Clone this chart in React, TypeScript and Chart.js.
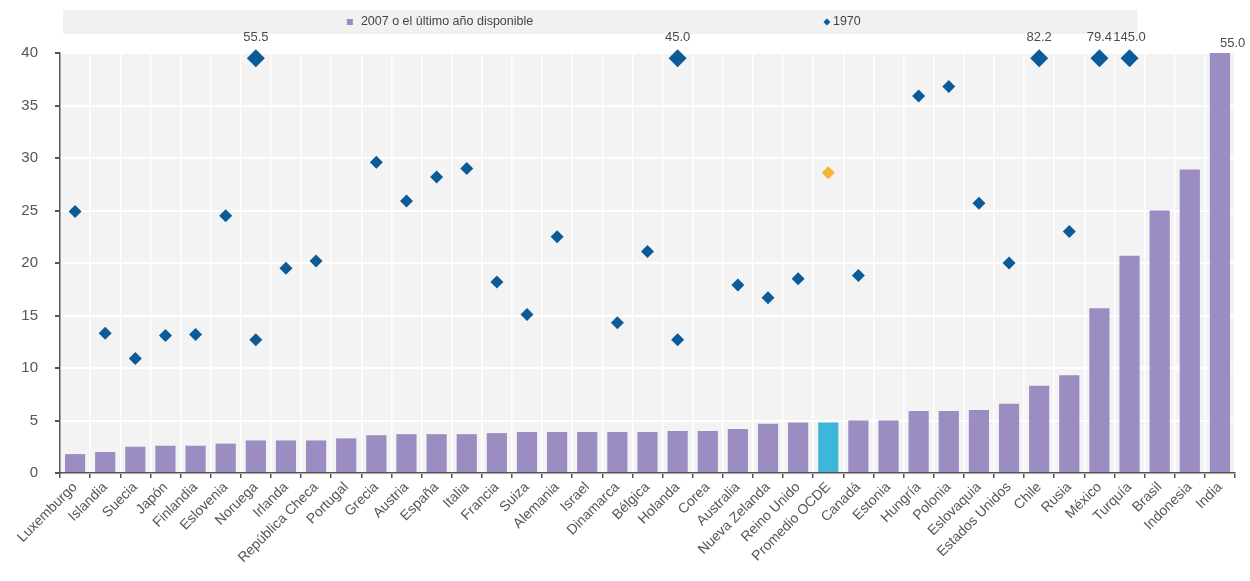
import React, { useEffect, useRef } from 'react';
import { Chart, registerables } from 'chart.js';

Chart.register(...registerables);

const categories = [
  'Luxemburgo', 'Islandia', 'Suecia', 'Japón', 'Finlandia', 'Eslovenia', 'Noruega', 'Irlanda',
  'República Checa', 'Portugal', 'Grecia', 'Austria', 'España', 'Italia', 'Francia', 'Suiza',
  'Alemania', 'Israel', 'Dinamarca', 'Bélgica', 'Holanda', 'Corea', 'Australia', 'Nueva Zelanda',
  'Reino Unido', 'Promedio OCDE', 'Canadá', 'Estonia', 'Hungría', 'Polonia', 'Eslovaquia',
  'Estados Unidos', 'Chile', 'Rusia', 'México', 'Turquía', 'Brasil', 'Indonesia', 'India',
];

const values2007 = [
  1.8, 2.0, 2.5, 2.6, 2.6, 2.8, 3.1, 3.1, 3.1, 3.3, 3.6, 3.7, 3.7, 3.7, 3.8, 3.9,
  3.9, 3.9, 3.9, 3.9, 4.0, 4.0, 4.2, 4.7, 4.8, 4.8, 5.0, 5.0, 5.9, 5.9, 6.0,
  6.6, 8.3, 9.3, 15.7, 20.7, 25.0, 28.9, 55.0,
];

const values1970 = [
  24.9, 13.3, 10.9, 13.1, 13.2, 24.5, 12.7, 19.5, 20.2, null, 29.6, 25.9, 28.2, 29.0, 18.2, 15.1,
  22.5, null, 14.3, 21.1, 12.7, null, 17.9, 16.7, 18.5, 28.6, 18.8, null, 35.9, 36.8, 25.7,
  20.0, null, 23.0, null, null, null, null, null,
];

// 1970 values beyond the axis maximum, shown as large diamonds with their value printed above
const offScale1970 = [
  null, null, null, null, null, null, 55.5, null, null, null, null, null, null, null, null, null,
  null, null, null, null, 45.0, null, null, null, null, null, null, null, null, null, null,
  null, 82.2, null, 79.4, 145.0, null, null, null,
];

const yTickMin = 0;
const yTickMax = 40;
const yTickStep = 5;

const legendLabels = ['2007 o el último año disponible', '1970'];

const FONT = "'Liberation Sans', Arial, sans-serif";
const BAR = '#9B8CC1';
const BAR_AVG = '#3DB6DA';
const DIAMOND = '#0B5B99';
const DIAMOND_AVG = '#F2B632';
const TEXT = '#555555';

const AVG_INDEX = categories.indexOf('Promedio OCDE');

const plotBackground = {
  id: 'plotBackground',
  beforeDraw(chart: any) {
    const { ctx, chartArea: a } = chart;
    ctx.save();
    ctx.fillStyle = '#F3F3F3';
    ctx.fillRect(a.left, a.top, a.right - a.left, a.bottom - a.top);
    // legend band
    const bandLeft = a.left + 3;
    const bandRight = a.left + (a.right - a.left) * 0.917;
    ctx.fillStyle = '#F1F1F1';
    ctx.fillRect(bandLeft, 10, bandRight - bandLeft, 24);
    const w = bandRight - bandLeft;
    ctx.font = `12.5px ${FONT}`;
    ctx.textBaseline = 'middle';
    ctx.textAlign = 'left';
    // item 1: bar
    const x1 = bandLeft + w * 0.267;
    ctx.fillStyle = BAR;
    ctx.fillRect(x1 - 3, 19, 6, 6);
    ctx.fillStyle = '#444';
    ctx.fillText(legendLabels[0], x1 + 11, 22);
    // item 2: diamond
    const x2 = bandLeft + w * 0.711;
    ctx.fillStyle = DIAMOND;
    ctx.beginPath();
    ctx.moveTo(x2, 18.5);
    ctx.lineTo(x2 + 3.5, 22);
    ctx.lineTo(x2, 25.5);
    ctx.lineTo(x2 - 3.5, 22);
    ctx.closePath();
    ctx.fill();
    ctx.fillStyle = '#444';
    ctx.fillText(legendLabels[1], x2 + 6, 22);
    ctx.restore();
  },
};

const offScaleLabels = {
  id: 'offScaleLabels',
  afterDatasetsDraw(chart: any) {
    const { ctx, chartArea: a } = chart;
    ctx.save();
    ctx.font = `13px ${FONT}`;
    ctx.fillStyle = '#4A4A4A';
    ctx.textBaseline = 'middle';
    // large diamonds
    const metaD = chart.getDatasetMeta(2);
    offScale1970.forEach((v, i) => {
      if (v == null) return;
      const el = metaD.data[i];
      ctx.textAlign = 'center';
      ctx.fillText(v.toFixed(1), el.x, el.y - 21);
    });
    // bars above the axis maximum
    const metaB = chart.getDatasetMeta(0);
    values2007.forEach((v, i) => {
      if (v <= yTickMax) return;
      const el = metaB.data[i];
      ctx.textAlign = 'left';
      ctx.fillText(v.toFixed(1), el.x, a.top - 10);
    });
    ctx.restore();
  },
};

export default function App() {
  const ref = useRef<HTMLCanvasElement>(null);

  useEffect(() => {
    document.body.style.margin = '0';
    const canvas = ref.current;
    if (!canvas) return;
    const chart = new Chart(canvas, {
      type: 'bar',
      data: {
        labels: categories,
        datasets: [
          {
            type: 'bar',
            label: legendLabels[0],
            data: values2007,
            backgroundColor: values2007.map((_, i) => (i === AVG_INDEX ? BAR_AVG : BAR)),
            borderWidth: 0,
            barPercentage: 0.67,
            categoryPercentage: 1,
            clip: 0,
            order: 3,
          } as any,
          {
            type: 'line',
            label: legendLabels[1],
            data: values1970,
            showLine: false,
            pointStyle: 'rectRot',
            pointRadius: 6.5,
            pointHoverRadius: 6.5,
            pointBorderWidth: 0,
            pointBackgroundColor: values1970.map((_, i) => (i === AVG_INDEX ? DIAMOND_AVG : DIAMOND)),
            pointBorderColor: 'rgba(0,0,0,0)',
            order: 1,
          } as any,
          {
            type: 'line',
            label: '1970 (fuera de escala)',
            data: offScale1970.map((v) => (v == null ? null : Math.min(v, yTickMax - 0.5))),
            showLine: false,
            pointStyle: 'rectRot',
            pointRadius: 9,
            pointHoverRadius: 9,
            pointBorderWidth: 0,
            pointBackgroundColor: DIAMOND,
            pointBorderColor: 'rgba(0,0,0,0)',
            clip: false,
            order: 0,
          } as any,
        ],
      },
      options: {
        animation: false,
        responsive: true,
        maintainAspectRatio: false,
        layout: { padding: { top: 53, right: 15, left: 0, bottom: 0 } },
        plugins: {
          legend: { display: false },
          tooltip: { enabled: false },
        },
        scales: {
          x: {
            offset: true,
            grid: {
              color: '#FFFFFF',
              lineWidth: 1.5,
              offset: true,
              tickColor: '#555555',
              tickLength: 5,
            },
            border: { color: '#555555', width: 1.5 },
            ticks: {
              autoSkip: false,
              maxRotation: 45,
              minRotation: 45,
              font: { family: FONT, size: 14 },
              color: TEXT,
              padding: 1,
            },
            afterFit(scale: any) {
              scale.height = 108;
            },
          },
          y: {
            min: yTickMin,
            max: yTickMax,
            ticks: {
              stepSize: yTickStep,
              font: { family: FONT, size: 15 },
              color: TEXT,
              padding: 17,
            },
            grid: {
              color: '#FFFFFF',
              lineWidth: 2,
              tickColor: '#555555',
              tickLength: 5,
            },
            border: { color: '#555555', width: 1.5 },
            afterFit(scale: any) {
              scale.width = 60;
            },
          },
        },
      },
      plugins: [plotBackground, offScaleLabels],
    });
    return () => chart.destroy();
  }, []);

  return (
    <div style={{ width: 1250, height: 581, position: 'relative' }}>
      <canvas ref={ref} />
    </div>
  );
}
